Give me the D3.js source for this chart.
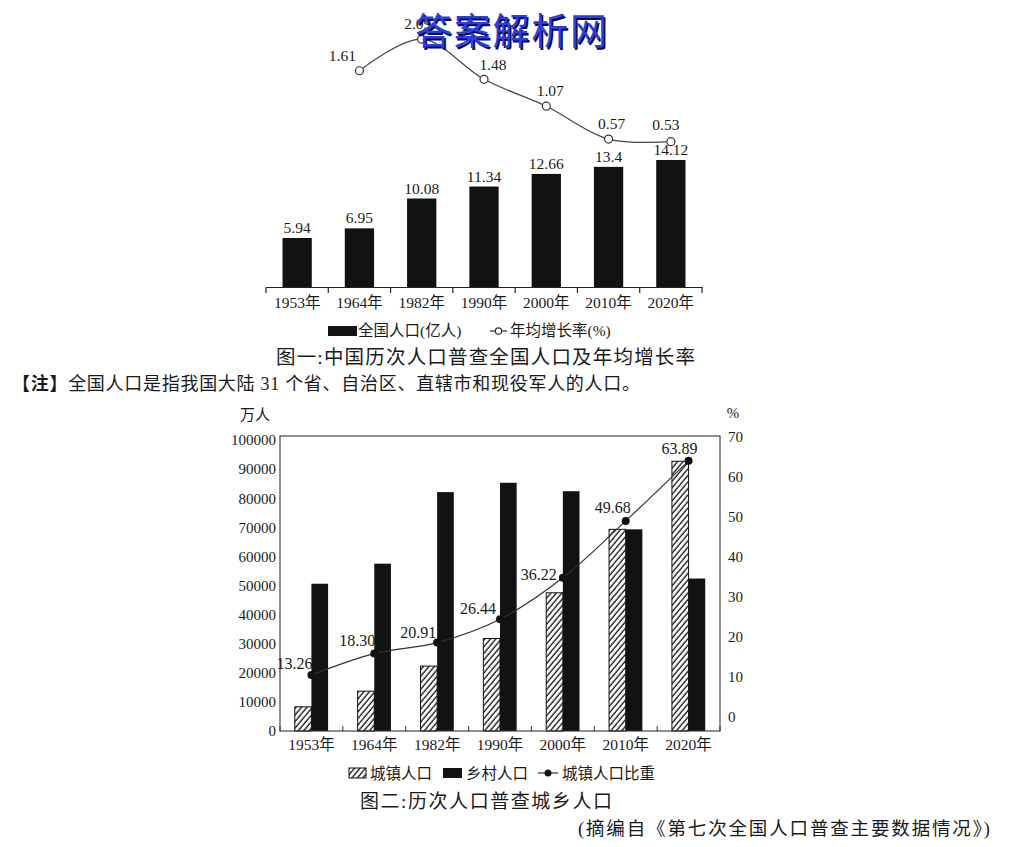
<!DOCTYPE html>
<html><head><meta charset="utf-8">
<script src="https://cdn.jsdelivr.net/npm/d3@7/dist/d3.min.js"></script>
<style>
body{margin:0;background:#fff}
text{fill:#1a1a1a}
.num{font-family:"Liberation Serif","Noto Sans CJK SC",serif}
.cjk{font-family:"Liberation Serif","Noto Sans CJK SC",sans-serif}
</style>
</head><body><svg id="c" width="1016" height="847"></svg>
<script>
// ---------- data ----------
const years = ["1953年","1964年","1982年","1990年","2000年","2010年","2020年"];
const totalPop = [5.94, 6.95, 10.08, 11.34, 12.66, 13.4, 14.12];
const totalPopLabels = ["5.94","6.95","10.08","11.34","12.66","13.4","14.12"];
const growthYears = ["1964年","1982年","1990年","2000年","2010年","2020年"];
const growthRate = [1.61, 2.09, 1.48, 1.07, 0.57, 0.53];
const growthLabels = ["1.61","2.09","1.48","1.07","0.57","0.53"];
const urbanPop = [8300, 13700, 22300, 31800, 47500, 69300, 92700];
const ruralPop = [50600, 57500, 82100, 85300, 82400, 69300, 52400];
const urbanShare = [13.26, 18.30, 20.91, 26.44, 36.22, 49.68, 63.89];
const urbanShareLabels = ["13.26","18.30","20.91","26.44","36.22","49.68","63.89"];
const leftTicks = [0,10000,20000,30000,40000,50000,60000,70000,80000,90000,100000];
const rightTicks = [0,10,20,30,40,50,60,70];

// label nudges (layout only)
const growthLabelDx = [-17, -4, 9, 4, 3, -5];
const growthLabelDy = [-10, -10, -9, -10, -10, -12];
const shareLabelDx = [-17, -17, -19, -22, -24, -13, -9];
const shareLabelDy = [-11, -13, -10, -10, -3, -13, -12];

const svg = d3.select("#c");
svg.append("rect").attr("width",1016).attr("height",847).attr("fill","#fff");
const defs = svg.append("defs");
const pat = defs.append("pattern").attr("id","hatch").attr("patternUnits","userSpaceOnUse")
  .attr("width",4.2).attr("height",4.2).attr("patternTransform","rotate(40)");
pat.append("rect").attr("width",4.2).attr("height",4.2).attr("fill","#fff");
pat.append("line").attr("x1",1).attr("y1",0).attr("x2",1).attr("y2",4.2)
  .attr("stroke","#111").attr("stroke-width",1.3);

// ---------- chart 1 ----------
const x1 = d3.scaleBand().domain(years).range([266,702]);
const y1 = d3.scaleLinear().domain([0.8,14.12]).range([287,160]);
const r1 = d3.scaleLinear().domain([0.53,2.09]).range([141.7,39.2]);
const g1 = svg.append("g");
const bw1 = x1.bandwidth()*0.47;
g1.selectAll("rect.bar").data(totalPop).join("rect").attr("class","bar")
  .attr("x",(d,i)=>x1(years[i])+(x1.bandwidth()-bw1)/2)
  .attr("y",d=>y1(d)).attr("width",bw1).attr("height",d=>y1(0.8)-y1(d))
  .attr("fill","#121212");
g1.selectAll("text.bl").data(totalPop).join("text").attr("class","bl num")
  .attr("x",(d,i)=>x1(years[i])+x1.bandwidth()/2).attr("y",d=>y1(d)-5)
  .attr("text-anchor","middle").attr("font-size",15.5).text((d,i)=>totalPopLabels[i]);
// axis
const ax1 = g1.append("g").attr("transform",`translate(0,${y1(0.8)})`)
  .call(d3.axisBottom(x1).tickSize(0).tickPadding(10));
ax1.select(".domain").attr("stroke","#222").attr("stroke-width",1.2);
ax1.selectAll("text").attr("class","cjk").attr("font-size",15.5).attr("fill","#1a1a1a")
  .style("font-family",'"Liberation Serif","Noto Sans CJK SC",serif');
const bounds1 = years.map(y=>x1(y)).concat([x1.range()[1]]);
g1.selectAll("line.tk").data(bounds1).join("line").attr("class","tk")
  .attr("x1",d=>d).attr("x2",d=>d).attr("y1",y1(0.8)).attr("y2",y1(0.8)+6)
  .attr("stroke","#222").attr("stroke-width",1.2);
// growth line
const pts1 = growthRate.map((v,i)=>[x1(growthYears[i])+x1.bandwidth()/2, r1(v)]);
g1.append("path").attr("d",d3.line().curve(d3.curveCatmullRom.alpha(0.5))(pts1))
  .attr("fill","none").attr("stroke","#444").attr("stroke-width",1.2);
g1.selectAll("circle.gp").data(pts1).join("circle").attr("class","gp")
  .attr("cx",d=>d[0]).attr("cy",d=>d[1]).attr("r",4)
  .attr("fill","#fff").attr("stroke","#333").attr("stroke-width",1.2);
g1.selectAll("text.gl").data(pts1).join("text").attr("class","gl num")
  .attr("x",(d,i)=>d[0]+growthLabelDx[i]).attr("y",(d,i)=>d[1]+growthLabelDy[i])
  .attr("text-anchor","middle").attr("font-size",15.5).text((d,i)=>growthLabels[i]);
// legend 1
g1.append("rect").attr("x",328).attr("y",326).attr("width",29).attr("height",10).attr("fill","#121212");
g1.append("text").attr("class","cjk").attr("x",358).attr("y",336).attr("font-size",15.5).text("全国人口(亿人)");
g1.append("line").attr("x1",490).attr("x2",507).attr("y1",331).attr("y2",331).attr("stroke","#333").attr("stroke-width",1.2);
g1.append("circle").attr("cx",498.5).attr("cy",331).attr("r",3.2).attr("fill","#fff").attr("stroke","#333").attr("stroke-width",1.2);
g1.append("text").attr("class","cjk").attr("x",510).attr("y",336).attr("font-size",15.5).text("年均增长率(%)");
// title 1
g1.append("text").attr("class","cjk").attr("x",276).attr("y",364).attr("font-size",19.5)
  .attr("textLength",419).attr("lengthAdjust","spacing").text("图一:中国历次人口普查全国人口及年均增长率");

// note
const note = svg.append("text").attr("x",12).attr("y",390).attr("font-size",18)
  .attr("class","cjk").attr("textLength",628).attr("lengthAdjust","spacing");
note.append("tspan").attr("font-weight","bold").text("【注】");
note.append("tspan").text("全国人口是指我国大陆 31 个省、自治区、直辖市和现役军人的人口。");

// ---------- chart 2 ----------
const x2 = d3.scaleBand().domain(years).range([280,720]);
const yL = d3.scaleLinear().domain([0,100000]).range([731,440]);
const yR = d3.scaleLinear().domain([0,70]).range([731,435]);
const yRax = d3.scaleLinear().domain([0,70]).range([717,437]);
const g2 = svg.append("g");
const inner = d3.scaleBand().domain(["u","r"]).range([x2.bandwidth()*0.235, x2.bandwidth()*0.765]);

g2.selectAll("rect.u").data(urbanPop).join("rect").attr("class","u")
  .attr("x",(d,i)=>x2(years[i])+inner("u")).attr("y",d=>yL(d))
  .attr("width",inner.bandwidth()).attr("height",d=>yL(0)-yL(d))
  .attr("fill","url(#hatch)").attr("stroke","#111").attr("stroke-width",1);
g2.selectAll("rect.r").data(ruralPop).join("rect").attr("class","r")
  .attr("x",(d,i)=>x2(years[i])+inner("r")).attr("y",d=>yL(d))
  .attr("width",inner.bandwidth()).attr("height",d=>yL(0)-yL(d))
  .attr("fill","#121212");
// frame
g2.append("rect").attr("x",280).attr("y",436).attr("width",440).attr("height",yL(0)-436)
  .attr("fill","none").attr("stroke","#333").attr("stroke-width",1.1);
// bottom small ticks
const bounds2 = years.map(y=>x2(y)).concat([x2.range()[1]]);
g2.selectAll("line.tk").data(bounds2).join("line").attr("class","tk")
  .attr("x1",d=>d).attr("x2",d=>d).attr("y1",yL(0)).attr("y2",yL(0)-5)
  .attr("stroke","#333").attr("stroke-width",1);
// axes
const axL = g2.append("g").attr("transform","translate(280,0)")
  .call(d3.axisLeft(yL).tickValues(leftTicks).tickSize(0).tickPadding(4).tickFormat(d3.format("d")));
axL.select(".domain").remove();
axL.selectAll("text").attr("font-size",15).attr("fill","#1a1a1a").style("font-family",'"Liberation Serif",serif');
const axR = g2.append("g").attr("transform","translate(720,0)")
  .call(d3.axisRight(yRax).tickValues(rightTicks).tickSize(0).tickPadding(8));
axR.select(".domain").remove();
axR.selectAll("text").attr("font-size",15).attr("fill","#1a1a1a").style("font-family",'"Liberation Serif",serif');
const axB = g2.append("g").attr("transform",`translate(0,${yL(0)})`)
  .call(d3.axisBottom(x2).tickSize(0).tickPadding(8));
axB.select(".domain").remove();
axB.selectAll("text").attr("font-size",15.5).attr("fill","#1a1a1a")
  .style("font-family",'"Liberation Serif","Noto Sans CJK SC",serif');
// units
g2.append("text").attr("class","cjk").attr("x",255).attr("y",420).attr("text-anchor","middle").attr("font-size",15).text("万人");
g2.append("text").attr("class","num").attr("x",733).attr("y",418).attr("text-anchor","middle").attr("font-size",15).text("%");
// share line
const pts2 = urbanShare.map((v,i)=>[x2(years[i])+x2.bandwidth()/2, yR(v)]);
g2.append("path").attr("d",d3.line().curve(d3.curveCatmullRom.alpha(0.5))(pts2))
  .attr("fill","none").attr("stroke","#333").attr("stroke-width",1.2);
g2.selectAll("circle.sp").data(pts2).join("circle").attr("class","sp")
  .attr("cx",d=>d[0]).attr("cy",d=>d[1]).attr("r",4).attr("fill","#111");
g2.selectAll("text.sl").data(pts2).join("text").attr("class","sl num")
  .attr("x",(d,i)=>d[0]+shareLabelDx[i]).attr("y",(d,i)=>d[1]+shareLabelDy[i]+5)
  .attr("text-anchor","middle").attr("font-size",16).text((d,i)=>urbanShareLabels[i]);
// legend 2
g2.append("rect").attr("x",349).attr("y",768).attr("width",17).attr("height",10)
  .attr("fill","url(#hatch)").attr("stroke","#111").attr("stroke-width",1);
g2.append("text").attr("class","cjk").attr("x",370).attr("y",779).attr("font-size",15.5).text("城镇人口");
g2.append("rect").attr("x",443).attr("y",768).attr("width",19).attr("height",10).attr("fill","#121212");
g2.append("text").attr("class","cjk").attr("x",466).attr("y",779).attr("font-size",15.5).text("乡村人口");
g2.append("line").attr("x1",538).attr("x2",558).attr("y1",773).attr("y2",773).attr("stroke","#333").attr("stroke-width",1.2);
g2.append("circle").attr("cx",548).attr("cy",773).attr("r",3.5).attr("fill","#111");
g2.append("text").attr("class","cjk").attr("x",562).attr("y",779).attr("font-size",15.5).text("城镇人口比重");
// title 2 & source
g2.append("text").attr("class","cjk").attr("x",360).attr("y",808).attr("font-size",19)
  .attr("textLength",252).attr("lengthAdjust","spacing").text("图二:历次人口普查城乡人口");
g2.append("text").attr("class","cjk").attr("x",578).attr("y",835).attr("font-size",18.5)
  .attr("textLength",412).attr("lengthAdjust","spacing").text("(摘编自《第七次全国人口普查主要数据情况》)");

// watermark
const wm = svg.append("g");
wm.append("text").attr("x",416.5).attr("y",46.5).attr("font-size",37)
  .style("font-family",'"Noto Sans CJK SC",sans-serif').style("fill","#0a0a40")
  .attr("textLength",192).attr("lengthAdjust","spacing").text("答案解析网");
wm.append("text").attr("x",415).attr("y",45).attr("font-size",37)
  .style("font-family",'"Noto Sans CJK SC",sans-serif').style("fill","#2a3fe0")
  .attr("textLength",192).attr("lengthAdjust","spacing").text("答案解析网");
</script>
</body></html>
